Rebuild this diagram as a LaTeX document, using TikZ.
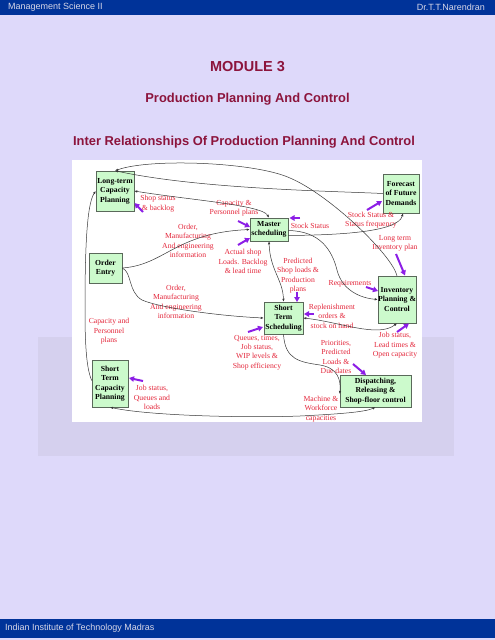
\documentclass[tikz,border=0pt]{standalone}
\usepackage{fontspec}
\newfontfamily\sansf{Liberation Sans}
\newfontfamily\serf{Liberation Serif}
\usetikzlibrary{arrows.meta,calc}
\definecolor{bglav}{RGB}{222,217,250}
\definecolor{hdrblue}{RGB}{0,51,153}
\definecolor{hdrtext}{RGB}{215,215,232}
\definecolor{titlered}{RGB}{140,20,60}
\definecolor{photoband}{RGB}{213,208,238}
\definecolor{boxgreen}{RGB}{204,250,204}
\definecolor{boxedge}{RGB}{90,105,90}
\definecolor{lblred}{RGB}{228,40,60}
\definecolor{purp}{RGB}{140,30,230}
\definecolor{connc}{RGB}{55,55,55}
\tikzset{
  procbox/.style={draw=boxedge, line width=0.5pt, fill=boxgreen, align=center, inner sep=0pt,
    font=\serf\bfseries\fontsize{7.7}{9.4}\selectfont, text=black},
  lbl/.style={align=center, inner sep=0pt, text=lblred, font=\serf\fontsize{7.7}{9.4}\selectfont},
  conn/.style={draw=connc, line width=0.5pt, -{Latex[length=3pt,width=2.4pt]}},
  bconn/.style={draw=connc, line width=0.5pt, {Latex[length=3pt,width=2.4pt]}-{Latex[length=3pt,width=2.4pt]}},
  parrow/.style={draw=purp, line width=2pt, -{Triangle[length=5pt,width=5.5pt]}},
  hdr/.style={inner sep=0pt, text=hdrtext, font=\sansf\fontsize{9}{10}\selectfont},
  ttl/.style={inner sep=0pt, text=titlered, font=\sansf\bfseries\fontsize{12.9}{14}\selectfont}
}
\begin{document}
\begin{tikzpicture}[x=1pt,y=-1pt]
\useasboundingbox (0,0) rectangle (495,640);
% background
\fill[bglav] (0,0) rectangle (495,640);
\fill[photoband] (38,337) rectangle (454,456);
\fill[hdrblue] (0,0) rectangle (495,15);
\fill[hdrblue] (0,619) rectangle (495,638);
\node[hdr, anchor=west] (hl) at (8,7.5) {Management Science II};
\node[hdr, anchor=east] (hr) at (485,7.5) {Dr.T.T.Narendran};
\node[hdr, anchor=west] (fl) at (5,628.5) {Indian Institute of Technology Madras};
% titles
\node[ttl, font=\sansf\bfseries\fontsize{14.5}{16}\selectfont] (t1) at (247.5,67) {MODULE 3};
\node[ttl] (t2) at (247.5,99) {Production Planning And Control};
\node[ttl] (t3) at (244,142) {Inter Relationships Of Production Planning And Control};
% diagram canvas
\fill[white] (72,160) rectangle (422,422);
% boxes
\node[procbox, minimum width=38pt, minimum height=40pt] (LT) at (115,191) {Long-term\\Capacity\\Planning};
\node[procbox, minimum width=36pt, minimum height=39pt] (FC) at (401,193.5) {Forecast\\of Future\\Demands};
\node[procbox, minimum width=38pt, minimum height=23pt] (MS) at (269,229.5) {Master\\scheduling};
\node[procbox, minimum width=33pt, minimum height=30pt] (OE) at (105.5,268) {Order\\Entry};
\node[procbox, minimum width=38pt, minimum height=47pt] (IP) at (397,299.5) {Inventory\\Planning \&\\Control};
\node[procbox, minimum width=39pt, minimum height=32pt] (SS) at (283.5,318) {Short\\Term\\Scheduling};
\node[procbox, minimum width=36pt, minimum height=47pt] (SC) at (110,383.5) {Short\\Term\\Capacity\\Planning};
\node[procbox, minimum width=71pt, minimum height=32pt] (DR) at (375.5,391) {Dispatching,\\Releasing \&\\Shop-floor control};
% labels
\node[lbl] (l1) at (158,203.5) {Shop status\\\& backlog};
\node[lbl] (l2) at (234,208.5) {Capacity \&\\Personnel plans};
\node[lbl] (l3) at (188,241) {Order,\\Manufacturing\\And engineering\\information};
\node[lbl] (l4) at (243,261.5) {Actual shop\\Loads. Backlog\\\& lead time};
\node[lbl] (l5) at (310,226.3) {Stock Status};
\node[lbl] (l6) at (371,220) {Stock Status \&\\Status frequency};
\node[lbl] (l7) at (395,243.5) {Long term\\Inventory plan};
\node[lbl] (l8) at (298,275.5) {Predicted\\Shop loads \&\\Production\\plans};
\node[lbl] (l9) at (350,284) {Requirements};
\node[lbl] (l10) at (332,316) {Replenishment\\orders \&\\stock on hand};
\node[lbl] (l11) at (395,345.5) {Job status,\\Lead times \&\\Open capacity};
\node[lbl] (l12) at (336,357) {Priorities,\\Predicted\\Loads \&\\Due dates};
\node[lbl] (l13) at (321,409) {Machine \&\\Workforce\\capacities};
\node[lbl] (l14) at (257,352.5) {Queues, times,\\Job status,\\WIP levels \&\\Shop efficiency};
\node[lbl] (l15) at (176,302) {Order,\\Manufacturing\\And engineering\\information};
\node[lbl] (l16) at (109,331.5) {Capacity and\\Personnel\\plans};
\node[lbl] (l17) at (152,397.7) {Job status,\\Queues and\\loads};
% connectors
\draw[conn] (FC.west) .. controls (330,191) and (200,189) .. (LT.north);
\draw[conn] (IP.north) .. controls (392,255) and (330,195) .. (290,178) .. controls (255,162) and (150,158) .. (LT.north);
\draw[bconn] (MS.north) .. controls (262,205) and (190,200) .. (LT.east);
\draw[conn] (OE.east) .. controls (165,265) and (175,233) .. (MS.west);
\draw[conn] (OE.east) .. controls (132,272) and (128,292) .. (142,300) .. controls (160,308) and (220,316) .. (SS.west);
\draw[bconn] (MS.south) .. controls (270,270) and (283,280) .. (SS.north);
\draw[conn] ($(MS.east)+(0,6)$) .. controls (340,235) and (398,232) .. ($(FC.south)+(2,0)$);
\draw[conn] ($(MS.east)+(0,1)$) .. controls (320,231) and (332,250) .. (337,270) .. controls (342,290) and (360,298) .. (IP.west);
\draw[bconn] (SS.east) .. controls (340,322) and (378,338) .. (IP.south);
\draw[conn] (SS.south) .. controls (285,360) and (300,362) .. (320,365) .. controls (338,368) and (341,380) .. ($(DR.west)+(0,3)$);
\draw[bconn] (SC.south) .. controls (150,416) and (250,418) .. (300,416) .. controls (340,414) and (365,412) .. (DR.south);
\draw[conn] ($(SC.west)+(0,-3)$) .. controls (86,368) and (85,340) .. (85,310) .. controls (85,260) and (86,205) .. (LT.west);
% purple pointer arrows
\draw[parrow] (143,212) -- (134.5,203);
\draw[parrow] (238,221) -- (250,227);
\draw[parrow] (238,245) -- (250,238);
\draw[parrow] (300,218) -- (289.5,218);
\draw[parrow] (367,210) -- (382,201);
\draw[parrow] (396,254) -- (405,275.5);
\draw[parrow] (297,292) -- (297,302);
\draw[parrow] (366,287) -- (378,291);
\draw[parrow] (314,314) -- (304,314);
\draw[parrow] (397,332) -- (409,323.5);
\draw[parrow] (353,364) -- (366,375);
\draw[parrow] (248,332) -- (263,327);
\draw[parrow] (143,381) -- (129,378);
\end{tikzpicture}
\end{document}
